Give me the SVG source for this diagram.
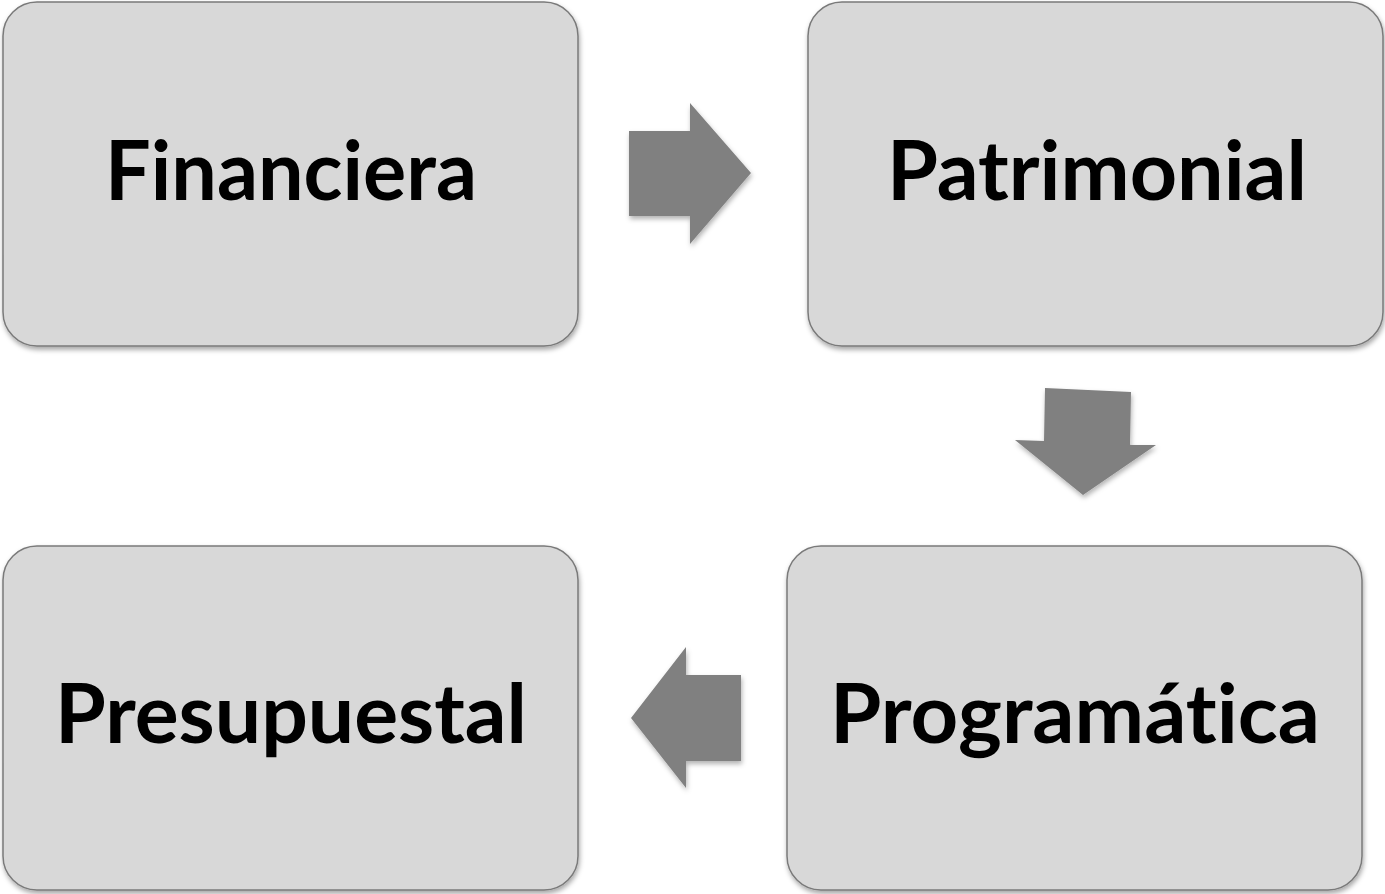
<svg xmlns="http://www.w3.org/2000/svg" width="1385" height="894" viewBox="0 0 1385 894">
<defs>
<filter id="sh" x="-5%" y="-5%" width="112%" height="115%">
<feDropShadow dx="1" dy="3" stdDeviation="2.5" flood-color="#000" flood-opacity="0.35"/>
</filter>
<filter id="ash" x="-10%" y="-10%" width="125%" height="125%">
<feDropShadow dx="1" dy="3" stdDeviation="2.5" flood-color="#000" flood-opacity="0.3"/>
</filter>
</defs>
<style>
.box{fill:#d8d8d8;stroke:#7a7a7a;stroke-width:1.5;filter:url(#sh)}
.lbl{font-family:Lato,"Liberation Sans",sans-serif;font-weight:bold;font-size:82px;fill:#000;text-anchor:middle;font-variant-ligatures:none;font-feature-settings:"liga" 0,"clig" 0,"dlig" 0}
.arr{fill:#808080;filter:url(#ash)}
</style>
<rect width="1385" height="894" fill="#fff"/>
<g id="connectors">
<polygon class="arr" points="629,131 690,131 690,103 751,173 690,244 690,216 629,216"/>
<polygon class="arr" points="1045,388 1131,392 1130,445 1156,445 1083,495 1015,440 1044,441"/>
<polygon class="arr" points="741,675 686,675 686,647 631,718 686,788 686,761 741,761"/>
</g>
<g id="financiera">
<rect class="box" x="3" y="2" width="575" height="344" rx="34"/>
<text class="lbl" x="291" y="200" textLength="372" lengthAdjust="spacingAndGlyphs">Financiera</text>
</g>
<g id="patrimonial">
<rect class="box" x="808" y="2" width="575" height="344" rx="34"/>
<text class="lbl" x="1097" y="200" textLength="420" lengthAdjust="spacingAndGlyphs">Patrimonial</text>
</g>
<g id="programatica">
<rect class="box" x="787" y="546" width="575" height="344" rx="34"/>
<text class="lbl" x="1075" y="743" textLength="490" lengthAdjust="spacingAndGlyphs">Programática</text>
</g>
<g id="presupuestal">
<rect class="box" x="3" y="546" width="575" height="344" rx="34"/>
<text class="lbl" x="291" y="743" textLength="472" lengthAdjust="spacingAndGlyphs">Presupuestal</text>
</g>
</svg>
